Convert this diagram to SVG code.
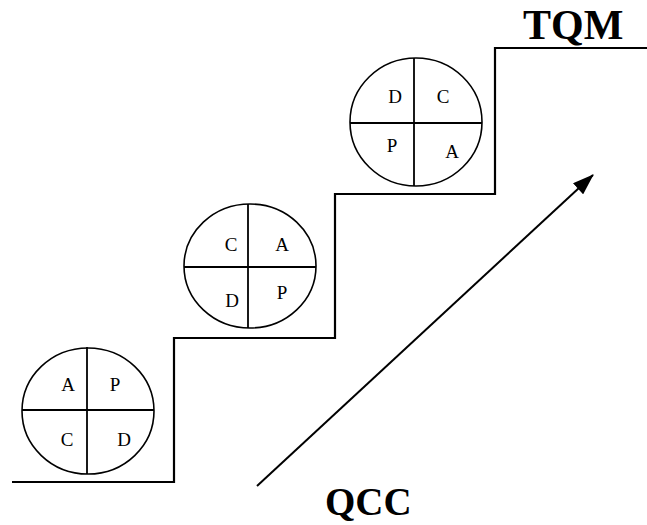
<svg xmlns="http://www.w3.org/2000/svg" width="647" height="525" viewBox="0 0 647 525">
  <style>
    .bg { fill: #ffffff; }
    .ring { fill: none; stroke: #000; stroke-width: 1.6; }
    .split { stroke: #000; stroke-width: 1.8; }
    .step { fill: none; stroke: #000; stroke-width: 2.2; stroke-linejoin: miter; }
    .phase { font-family: "Liberation Serif", "Times New Roman", serif; font-size: 19px; fill: #000; text-anchor: middle; }
    .title { font-family: "Liberation Serif", "Times New Roman", serif; font-weight: bold; fill: #000; }
    .arrow { stroke: #000; stroke-width: 2; fill: none; }
  </style>
  <defs>
    <marker id="tip" viewBox="0 0 20 14" refX="19" refY="7" markerWidth="22" markerHeight="15" markerUnits="userSpaceOnUse" orient="auto">
      <path d="M0,0 L20,7 L0,14 Z" fill="#000"/>
    </marker>
  </defs>

  <rect class="bg" x="0" y="0" width="647" height="525"/>

  <!-- staircase -->
  <g id="stairs">
    <path class="step" d="M12,482 H174 V338 H335 V194 H495 V48 H647"/>
  </g>

  <!-- PDCA wheel, lowest step -->
  <g id="cycle-1">
    <ellipse class="ring" cx="88" cy="411" rx="66" ry="63"/>
    <line class="split" x1="22" y1="410" x2="154" y2="410"/>
    <line class="split" x1="87" y1="347" x2="87" y2="474"/>
    <text class="phase" x="68" y="391">A</text>
    <text class="phase" x="115" y="391">P</text>
    <text class="phase" x="67" y="446">C</text>
    <text class="phase" x="124" y="446">D</text>
  </g>

  <!-- PDCA wheel, middle step -->
  <g id="cycle-2">
    <ellipse class="ring" cx="250" cy="266" rx="66" ry="62"/>
    <line class="split" x1="184" y1="267" x2="316" y2="267"/>
    <line class="split" x1="248" y1="204" x2="248" y2="328"/>
    <text class="phase" x="231" y="251">C</text>
    <text class="phase" x="282" y="251">A</text>
    <text class="phase" x="232" y="307">D</text>
    <text class="phase" x="282" y="299">P</text>
  </g>

  <!-- PDCA wheel, top step -->
  <g id="cycle-3">
    <ellipse class="ring" cx="416" cy="122" rx="66" ry="64"/>
    <line class="split" x1="350" y1="123" x2="482" y2="123"/>
    <line class="split" x1="414" y1="58" x2="414" y2="186"/>
    <text class="phase" x="395" y="103">D</text>
    <text class="phase" x="443" y="103">C</text>
    <text class="phase" x="392" y="152">P</text>
    <text class="phase" x="452" y="158">A</text>
  </g>

  <!-- rising arrow -->
  <g id="connectors">
    <line class="arrow" x1="257" y1="486" x2="593" y2="175" marker-end="url(#tip)"/>
  </g>

  <!-- labels -->
  <g id="label-tqm">
    <text class="title" x="523" y="39" font-size="42">TQM</text>
  </g>
  <g id="label-qcc">
    <text class="title" x="325" y="515" font-size="39">QCC</text>
  </g>
</svg>
